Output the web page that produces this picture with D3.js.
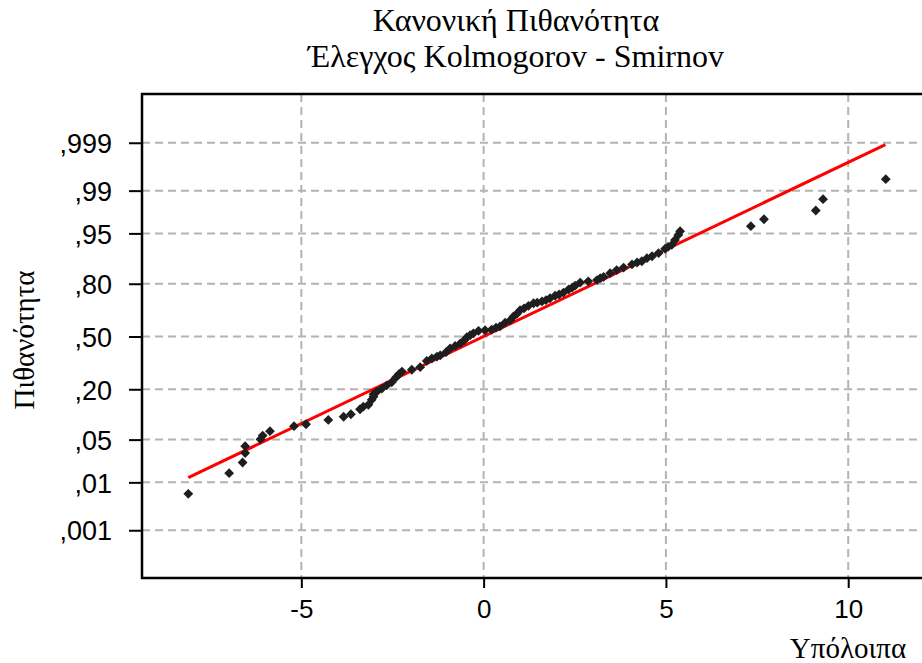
<!DOCTYPE html>
<html lang="el">
<head>
<meta charset="utf-8">
<title>Κανονική Πιθανότητα</title>
<script src="https://d3js.org/d3.v7.min.js"></script>
<style>
  body { margin: 0; background: #fff; }
  .grid line { stroke: #b3b3b3; stroke-width: 2; stroke-dasharray: 8,5; }
  .axis text { font-family: "Liberation Sans", Arial, sans-serif; font-size: 26px; fill: #000; }
  .axis.y text { font-size: 27px; }
  .axis line { stroke: #000; stroke-width: 2; }
  .frame { stroke: #000; stroke-width: 2.5; }
  .title { font-family: "Liberation Serif", "Times New Roman", serif; font-size: 32px; fill: #000; }
  .label { font-family: "Liberation Serif", "Times New Roman", serif; font-size: 29px; fill: #000; }
</style>
</head>
<body>
<div id="chart"></div>
<script>
// residuals (x) and their expected normal scores (y)
var residuals = [-8.10, -6.98, -6.61, -6.54, -6.54, -6.12, -6.06, -5.86, -5.20, -4.87,
  -4.26, -3.84, -3.64, -3.39, -3.30, -3.16, -3.07, -3.02, -3.02, -2.93,
  -2.79, -2.66, -2.52, -2.40, -2.32, -2.24, -1.97, -1.74, -1.56, -1.42,
  -1.28, -1.19, -1.03, -0.92, -0.78, -0.64, -0.53, -0.46, -0.37, -0.28,
  -0.14, 0.04, 0.22, 0.34, 0.45, 0.59, 0.73, 0.82, 0.91, 1.00,
  1.11, 1.23, 1.37, 1.47, 1.60, 1.71, 1.82, 1.96, 2.07, 2.19,
  2.33, 2.43, 2.51, 2.65, 2.87, 3.11, 3.20, 3.29, 3.47, 3.65,
  3.84, 4.07, 4.21, 4.34, 4.48, 4.62, 4.80, 4.98, 5.06, 5.16,
  5.25, 5.34, 5.39, 7.33, 7.69, 9.11, 9.31, 11.03];
var normalScores = [-2.51, -2.18, -2.01, -1.86, -1.75, -1.64, -1.58, -1.51, -1.43, -1.40,
  -1.33, -1.28, -1.24, -1.16, -1.12, -1.09, -1.01, -0.96, -0.92, -0.88,
  -0.83, -0.78, -0.73, -0.65, -0.60, -0.56, -0.53, -0.49, -0.39, -0.35,
  -0.32, -0.30, -0.25, -0.19, -0.15, -0.11, -0.06, -0.01, 0.02, 0.05,
  0.09, 0.10, 0.11, 0.14, 0.16, 0.22, 0.26, 0.32, 0.36, 0.42,
  0.45, 0.49, 0.53, 0.54, 0.56, 0.58, 0.61, 0.65, 0.67, 0.70,
  0.75, 0.78, 0.81, 0.86, 0.88, 0.90, 0.93, 0.95, 1.01, 1.06,
  1.10, 1.15, 1.18, 1.20, 1.25, 1.28, 1.33, 1.40, 1.43, 1.46,
  1.54, 1.62, 1.68, 1.76, 1.87, 2.01, 2.19, 2.51];

var probTicks = [0.001, 0.01, 0.05, 0.2, 0.5, 0.8, 0.95, 0.99, 0.999];
var probLabels = [",001", ",01", ",05", ",20", ",50", ",80", ",95", ",99", ",999"];
var xTicks = [-5, 0, 5, 10];

// fitted normal line
var fitMean = 0, fitSd = 3.6;
var fitRange = [-8.1, 11.02];

// inverse normal cdf (Acklam)
function probit(p) {
  var a = [-3.969683028665376e+01, 2.209460984245205e+02, -2.759285104469687e+02, 1.383577518672690e+02, -3.066479806614716e+01, 2.506628277459239e+00];
  var b = [-5.447609879822406e+01, 1.615858368580409e+02, -1.556989798598866e+02, 6.680131188771972e+01, -1.328068155288572e+01];
  var c = [-7.784894002430293e-03, -3.223964580411365e-01, -2.400758277161838e+00, -2.549732539343734e+00, 4.374664141464968e+00, 2.938163982698783e+00];
  var d = [7.784695709041462e-03, 3.224671290700398e-01, 2.445134137142996e+00, 3.754408661907416e+00];
  var pl = 0.02425, q, r;
  if (p < pl) {
    q = Math.sqrt(-2 * Math.log(p));
    return (((((c[0]*q+c[1])*q+c[2])*q+c[3])*q+c[4])*q+c[5]) / ((((d[0]*q+d[1])*q+d[2])*q+d[3])*q+1);
  }
  if (p > 1 - pl) {
    q = Math.sqrt(-2 * Math.log(1 - p));
    return -(((((c[0]*q+c[1])*q+c[2])*q+c[3])*q+c[4])*q+c[5]) / ((((d[0]*q+d[1])*q+d[2])*q+d[3])*q+1);
  }
  q = p - 0.5; r = q * q;
  return (((((a[0]*r+a[1])*r+a[2])*r+a[3])*r+a[4])*r+a[5])*q / (((((b[0]*r+b[1])*r+b[2])*r+b[3])*r+b[4])*r+1);
}

var W = 922, H = 663;
var margin = {top: 94, left: 142, bottom: 85, right: -21}
  , width = W - margin.left - margin.right
  , height = H - margin.top - margin.bottom;

var x = d3.scaleLinear().domain([-9.37, 12.6]).range([0, width]);
var y = d3.scaleLinear().domain([-3.852, 3.868]).range([height, 0]);

var svg = d3.select("#chart").append("svg")
    .attr("width", W)
    .attr("height", H);

var g = svg.append("g")
    .attr("transform", "translate(" + margin.left + "," + margin.top + ")");

// grid
var grid = g.append("g").attr("class", "grid");
grid.selectAll(".gx").data(xTicks).enter().append("line")
    .attr("x1", function(d) { return x(d); })
    .attr("x2", function(d) { return x(d); })
    .attr("y1", 0).attr("y2", height);
grid.selectAll(".gy").data(probTicks).enter().append("line")
    .attr("x1", 0).attr("x2", width)
    .attr("y1", function(d) { return y(probit(d)); })
    .attr("y2", function(d) { return y(probit(d)); });

// axes
var yAxis = g.append("g").attr("class", "axis y")
    .call(d3.axisLeft(y)
      .tickValues(probTicks.map(probit))
      .tickFormat(function(d, i) { return probLabels[i]; })
      .tickSize(13).tickPadding(17));
yAxis.select(".domain").remove();
yAxis.selectAll("text").attr("dy", "0.36em");

var xAxis = g.append("g").attr("class", "axis x")
    .attr("transform", "translate(0," + height + ")")
    .call(d3.axisBottom(x).tickValues(xTicks)
      .tickFormat(function(d) { return String(d); })
      .tickSize(10).tickPadding(12));
xAxis.select(".domain").remove();

// frame (right side lies outside the picture)
g.append("path").attr("class", "frame")
    .attr("fill", "none")
    .attr("d", "M" + width + ",0H0V" + height + "H" + width);

// fitted line
var line = d3.line()
    .x(function(d) { return x(d); })
    .y(function(d) { return y((d - fitMean) / fitSd); });
g.append("path")
    .datum(fitRange)
    .attr("fill", "none")
    .attr("stroke", "#ff0000")
    .attr("stroke-width", 3)
    .attr("d", line);

// points
var diamond = d3.symbol().type(d3.symbolSquare).size(48);
g.selectAll(".dot")
    .data(residuals)
  .enter().append("path")
    .attr("class", "dot")
    .attr("d", diamond)
    .attr("fill", "#1e1e1e")
    .attr("transform", function(d, i) { return "translate(" + x(d) + "," + y(normalScores[i]) + ") rotate(45)"; });

// titles
svg.append("text").attr("class", "title")
    .attr("x", 516).attr("y", 31).attr("text-anchor", "middle")
    .text("Κανονική Πιθανότητα");
svg.append("text").attr("class", "title")
    .attr("x", 516).attr("y", 67).attr("text-anchor", "middle")
    .text("Έλεγχος Kolmogorov - Smirnov");
svg.append("text").attr("class", "label")
    .attr("transform", "translate(34,340) rotate(-90)")
    .attr("text-anchor", "middle")
    .text("Πιθανότητα");
svg.append("text").attr("class", "label")
    .attr("x", 848).attr("y", 658).attr("text-anchor", "middle")
    .text("Υπόλοιπα");
</script>
</body>
</html>
